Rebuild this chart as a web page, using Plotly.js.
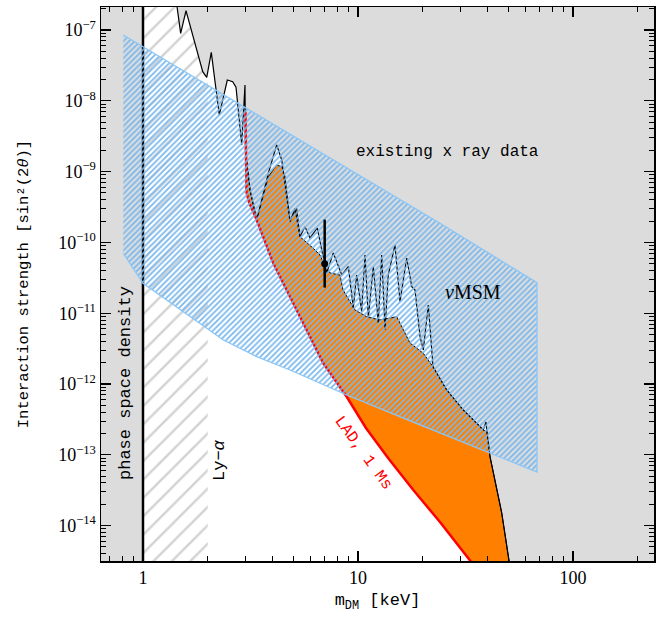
<!DOCTYPE html>
<html><head><meta charset="utf-8">
<script src="https://cdn.plot.ly/plotly-3.0.1.min.js"></script>
<style>html,body{margin:0;padding:0;background:#fff}</style>
</head><body><div id="chart" style="width:666px;height:617px"></div>
<script>
// existing X-ray upper limit (mass keV, sin^2(2theta))
const massXray = [1.435,1.497,1.585,1.896,1.979,2.078,2.264,2.467,2.614,2.708,2.878,2.981,2.997,3.146,3.38,3.826,4.187,4.418,4.828,5.093,5.373,5.668,5.979,6.466,6.78,7.152,7.676,8.40,9.015,9.509,9.862,10.40,10.78,11.17,11.78,12.43,12.89,13.36,13.83,14.86,15.68,16.85,17.78,18.42,19.43,20.13,21.23,22.33,25.86,30.89,38.27,39.39,39.81,41.11,46.61,50.55];
const strengthXray = [2.3e-7,8.98e-8,1.874e-7,2.576e-8,2.148e-8,4.84e-8,6.30e-9,1.967e-8,1.862e-8,1.551e-8,2.375e-9,1.671e-8,2.02e-9,5.50e-10,2.072e-10,9.46e-10,2.375e-9,1.458e-9,1.961e-10,3.03e-10,1.203e-10,1.667e-10,1.154e-10,1.597e-10,7.81e-11,3.70e-11,7.08e-11,3.46e-11,4.54e-11,1.184e-11,3.46e-11,1.050e-11,6.64e-11,8.56e-12,4.54e-11,7.27e-12,6.64e-11,5.79e-12,3.46e-11,9.19e-11,1.453e-11,6.02e-11,2.37e-11,2.13e-11,4.66e-12,3.02e-12,1.305e-11,1.755e-12,8.23e-13,4.29e-13,2.24e-13,2.91e-13,2.10e-13,9.40e-14,1.507e-14,3e-15];
const strengthXrayAt2keV = 2.5e-8;
// upper edge of the LOFT-accessible (orange) region
const massOrangeTop = [2.997,3.146,3.38,3.826,4.187,4.418,4.576,4.828,5.186,5.373,6.195,6.656,7.023,7.409,8.249,8.518,9.683,10.98,12.66,15.14,17.46,20.13,22.33,25.86,30.89,38.27,39.81,41.11,46.61,50.55];
const strengthOrangeTop = [2.02e-9,5.50e-10,2.072e-10,8.47e-10,1.239e-9,1.173e-9,8.47e-10,2.072e-10,3.03e-10,1.203e-10,8.25e-11,6.64e-11,4.54e-11,3.70e-11,3.46e-11,2.13e-11,1.11e-11,8.92e-12,8.02e-12,8.92e-12,3.79e-12,2.71e-12,1.755e-12,8.23e-13,4.29e-13,2.24e-13,2.10e-13,9.40e-14,1.507e-14,3e-15];
// LAD 1 Ms sensitivity
const massLAD = [2.997,3.03,3.112,3.38,4.036,4.828,5.771,6.896,8.862,10.89,13.83,18.08,24.06,33.8];
const strengthLAD = [6.95e-9,5.15e-10,3.72e-10,2.072e-10,5.07e-11,1.71e-11,5.79e-12,1.96e-12,6.61e-13,2.39e-13,8.92e-14,3.18e-14,1.124e-14,3e-15];
// nuMSM region outline
const massNuMSM = [0.81,24.06,68,68,19.43,8.862,4.828,3.38,2.363,1.654,1.289,1.0,0.81];
const strengthNuMSM = [8.5e-8,1.862e-10,2.70e-11,5.72e-14,2.64e-13,6.99e-13,1.576e-12,2.43e-12,4.18e-12,8.92e-12,1.536e-11,2.64e-11,7.01e-11];
// 3.5 keV line detection
const massLine = [7.0];
const strengthLine = [5.0e-11];
const strengthLineHigh = [2.1e-10];
const strengthLineLow = [2.3e-11];
// bounds
const massPSD = 1.0;          // phase space density bound
const massLyA = [1.0, 2.0];   // Lyman-alpha band
const xTicks = [1, 10, 100];
const xTickText = ['1', '10', '100'];
const yTicks = [1e-14,1e-13,1e-12,1e-11,1e-10,1e-9,1e-8,1e-7];
const yTickText = ['10<sup>\u221214</sup>','10<sup>\u221213</sup>','10<sup>\u221212</sup>','10<sup>\u221211</sup>','10<sup>\u221210</sup>','10<sup>\u22129</sup>','10<sup>\u22128</sup>','10<sup>\u22127</sup>'];

const LO = 3e-15, HI = 2.3e-7;
const GRAY = '#dcdcdc';

const traces = [];
// allowed (white) region: right of phase-space bound, below X-ray limit
traces.push({x:[massPSD, massPSD].concat(massXray), y:[LO, HI].concat(strengthXray), mode:'lines', fill:'toself',
  fillcolor:'white', line:{width:0}, hoverinfo:'skip'});
// Ly-alpha hatch band (below the X-ray limit)
const lyaX = [massLyA[0], massLyA[0]], lyaY = [LO, HI];
massXray.forEach((m, i) => { if (m < massLyA[1]) { lyaX.push(m); lyaY.push(strengthXray[i]); } });
lyaX.push(massLyA[1], massLyA[1]); lyaY.push(strengthXrayAt2keV, LO);
traces.push({x:lyaX, y:lyaY, mode:'lines', fill:'toself', line:{width:0}, fillcolor:'white',
  fillpattern:{shape:'/', fgcolor:'#d2d2d2', bgcolor:'white', size:13, solidity:0.18}, hoverinfo:'skip'});
// orange region
traces.push({x:massOrangeTop.concat(massLAD.slice(1).reverse()), y:strengthOrangeTop.concat(strengthLAD.slice(1).reverse()),
  mode:'lines', fill:'toself', fillcolor:'#ff8000', line:{width:0}, hoverinfo:'skip'});
// black lines
traces.push({x:massXray, y:strengthXray, mode:'lines', line:{color:'black', width:1.2}, hoverinfo:'skip'});
traces.push({x:massOrangeTop, y:strengthOrangeTop, mode:'lines', line:{color:'black', width:1}, hoverinfo:'skip'});
traces.push({x:[massPSD,massPSD], y:[LO,HI], mode:'lines', line:{color:'black', width:2.5}, hoverinfo:'skip'});
// LAD red
traces.push({x:massLAD, y:strengthLAD, mode:'lines', line:{color:'#ff0000', width:2.5}, hoverinfo:'skip'});
// nuMSM hatched
traces.push({x:massNuMSM, y:strengthNuMSM, mode:'lines', fill:'toself', fillcolor:'rgba(0,0,0,0)',
  line:{color:'#8cc6f6', width:1.3}, fillpattern:{shape:'/', fgcolor:'#7ab8ee', bgcolor:'rgba(0,0,0,0)', size:4, solidity:0.45}, hoverinfo:'skip'});
// line detection
traces.push({x:massLine, y:strengthLine, mode:'markers', marker:{color:'black', size:7},
  error_y:{type:'data', symmetric:false, array:[strengthLineHigh[0]-strengthLine[0]], arrayminus:[strengthLine[0]-strengthLineLow[0]], color:'black', thickness:2.5, width:0}});

const monoFont = 'Liberation Mono, DejaVu Sans Mono, monospace';
const serifFont = 'Liberation Serif, DejaVu Serif, serif';
const axisCommon = {type:'log', showgrid:false, zeroline:false, showline:true, linecolor:'black', linewidth:1.5, mirror:'allticks',
  ticks:'inside', ticklen:10, tickwidth:1.2, tickcolor:'black', tickmode:'array',
  tickfont:{family:serifFont, size:18, color:'black'},
  minor:{ticks:'inside', ticklen:5, tickwidth:1, tickcolor:'black', dtick:'D1', showgrid:false}};

const ann = (text, x, y, size, extra) => Object.assign({text:text, xref:'paper', yref:'paper', x:x, y:y, xanchor:'center', yanchor:'middle',
  showarrow:false, font:{family:monoFont, size:size, color:'black'}}, extra || {});

const layout = {
  width:666, height:617, margin:{l:101, r:12, t:7, b:56},
  paper_bgcolor:'white', plot_bgcolor:GRAY, showlegend:false,
  xaxis:Object.assign({}, axisCommon, {range:[-0.1953, 2.3767], tickvals:xTicks, ticktext:xTickText,
    title:{text:'m<sub>DM</sub> [keV]', font:{family:monoFont, size:17, color:'black'}, standoff:6}}),
  yaxis:Object.assign({}, axisCommon, {range:[-14.5, -6.675], tickvals:yTicks, ticktext:yTickText,
    title:{text:'Interaction strength [sin\u00b2(2<i>\u03b8</i>)]', font:{family:monoFont, size:15.5, color:'black'}, standoff:26}}),
  annotations:[
    ann('existing x ray data', 0.6257, 0.7383, 16),
    ann('<i>\u03bd</i>MSM', 0.6727, 0.4856, 20, {font:{family:serifFont, size:20, color:'black'}}),
    ann('phase space density', 0.0452, 0.3213, 17, {textangle:-90}),
    ann('Ly\u2212<i>\u03b1</i>', 0.2134, 0.1823, 17, {textangle:-90}),
    ann('LAD, 1 Ms', 0.4738, 0.1949, 16, {textangle:54, font:{family:monoFont, size:16, color:'#ff0000'}})
  ]
};
Plotly.newPlot('chart', traces, layout, {displayModeBar:false, staticPlot:true});
</script></body></html>
